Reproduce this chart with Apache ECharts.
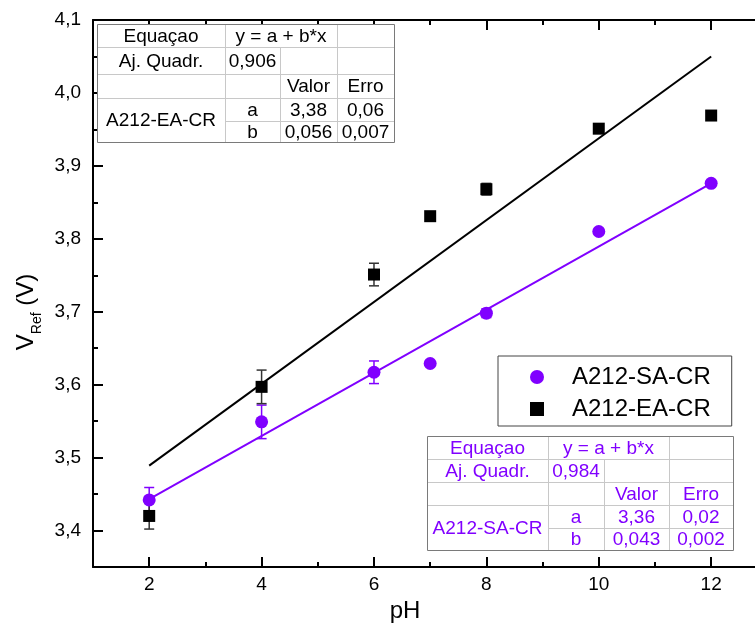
<!DOCTYPE html>
<html><head><meta charset="utf-8">
<script src="https://cdn.jsdelivr.net/npm/echarts@6/dist/echarts.min.js"></script>
<style>html,body{margin:0;padding:0;background:#fff}#c{width:755px;height:635px}</style>
</head><body><div id="c"></div>
<script>
// ---- data ----
const pH = [2, 4, 6, 7, 8, 10, 12];
const vEA = [3.420, 3.597, 3.751, 3.831, 3.868, 3.951, 3.969];
const errEA = [0.018, 0.023, 0.0155, 0.002, 0.008, 0.004, 0.003];
const vSA = [3.442, 3.549, 3.617, 3.629, 3.698, 3.810, 3.876];
const errSA = [0.017, 0.023, 0.0155, 0.002, 0.006, 0.004, 0.003];
const fitX = [2, 12];
const fitEA = [3.489, 4.050];
const fitSA = [3.443, 3.876];
const xMajorTicks = [2, 4, 6, 8, 10, 12];
const xMinorTicks = [3, 5, 7, 9, 11];
const yMajorTicks = [3.4, 3.5, 3.6, 3.7, 3.8, 3.9, 4.0, 4.1];
const yMinorTicks = [3.35, 3.45, 3.55, 3.65, 3.75, 3.85, 3.95, 4.05];
const seriesNames = ['A212-SA-CR', 'A212-EA-CR'];

const t1Header = ['Equaçao', 'y = a + b*x'];
const t1Adj = ['Aj. Quadr.', '0,906'];
const t1Cols = ['Valor', 'Erro'];
const t1RowA = ['a', '3,38', '0,06'];
const t1RowB = ['b', '0,056', '0,007'];

const t2Header = ['Equaçao', 'y = a + b*x'];
const t2Adj = ['Aj. Quadr.', '0,984'];
const t2Cols = ['Valor', 'Erro'];
const t2RowA = ['a', '3,36', '0,02'];
const t2RowB = ['b', '0,043', '0,002'];

const PURPLE = '#8000ff';
const FONT = '"Liberation Sans", Arial, sans-serif';

function tableGraphic(left, top, colW, rowH, color, name, header, adj, cols, rowA, rowB) {
  const xs = [left]; colW.forEach(w => xs.push(xs[xs.length - 1] + w));
  const ys = [top]; rowH.forEach(h => ys.push(ys[ys.length - 1] + h));
  const els = [];
  const inner = '#c8c8c8';
  els.push({type: 'rect', z: 100, shape: {x: xs[0] + 0.5, y: ys[0] + 0.5, width: xs[4] - xs[0], height: ys[5] - ys[0]},
    style: {fill: '#fff', stroke: '#7a7a7a', lineWidth: 1}});
  const hl = (y, x1, x2) => els.push({type: 'line', z: 101, shape: {x1: x1 + 1, y1: y + 0.5, x2: x2, y2: y + 0.5}, style: {stroke: inner, lineWidth: 1}});
  const vl = (x, y1, y2) => els.push({type: 'line', z: 101, shape: {x1: x + 0.5, y1: y1 + 1, x2: x + 0.5, y2: y2}, style: {stroke: inner, lineWidth: 1}});
  hl(ys[1], xs[0], xs[4]); hl(ys[2], xs[0], xs[4]); hl(ys[3], xs[0], xs[4]); hl(ys[4], xs[1], xs[4]);
  vl(xs[1], ys[0], ys[5]); vl(xs[2], ys[1], ys[5]); vl(xs[3], ys[0], ys[5]);
  const tx = (s, cx, cy) => els.push({type: 'text', z: 102, style: {text: s, x: cx, y: cy + 1, align: 'center', verticalAlign: 'middle', fill: color, fontSize: 19, fontFamily: FONT}});
  const cx = (a, b) => (xs[a] + xs[b]) / 2, cy = (a, b) => (ys[a] + ys[b]) / 2;
  tx(header[0], cx(0, 1), cy(0, 1)); tx(header[1], cx(1, 3), cy(0, 1));
  tx(adj[0], cx(0, 1), cy(1, 2)); tx(adj[1], cx(1, 2), cy(1, 2));
  tx(cols[0], cx(2, 3), cy(2, 3)); tx(cols[1], cx(3, 4), cy(2, 3));
  tx(name, cx(0, 1), cy(3, 5));
  tx(rowA[0], cx(1, 2), cy(3, 4)); tx(rowA[1], cx(2, 3), cy(3, 4)); tx(rowA[2], cx(3, 4), cy(3, 4));
  tx(rowB[0], cx(1, 2), cy(4, 5)); tx(rowB[1], cx(2, 3), cy(4, 5)); tx(rowB[2], cx(3, 4), cy(4, 5));
  return els;
}

const errRender = (color) => function (params, api) {
  const x = api.value(0), lo = api.value(1), hi = api.value(2);
  const p1 = api.coord([x, hi]), p2 = api.coord([x, lo]);
  const st = {stroke: color, lineWidth: 1.5};
  return {type: 'group', children: [
    {type: 'line', shape: {x1: p1[0], y1: p1[1], x2: p2[0], y2: p2[1]}, style: st},
    {type: 'line', shape: {x1: p1[0] - 5, y1: p1[1], x2: p1[0] + 5, y2: p1[1]}, style: st},
    {type: 'line', shape: {x1: p2[0] - 5, y1: p2[1], x2: p2[0] + 5, y2: p2[1]}, style: st}
  ]};
};

const XMIN = 1, XMAX = 12.78, YMIN = 3.35, YMAX = 4.1;
const axisLineStyle = {color: '#000', width: 2};
function xAx(pos, ticks, len, showLine, labels) {
  return {type: 'value', position: pos, min: XMIN, max: XMAX, splitLine: {show: false},
    axisLine: {show: showLine, onZero: false, lineStyle: axisLineStyle},
    axisTick: {show: true, inside: true, length: len, customValues: ticks, lineStyle: {color: '#000', width: 2}},
    axisLabel: labels ? {show: true, customValues: ticks, fontSize: 19, color: '#000', fontFamily: FONT, margin: 8, formatter: v => String(v)} : {show: false}
  };
}
function yAx(ticks, len, showLine, labels) {
  return {type: 'value', position: 'left', min: YMIN, max: YMAX, splitLine: {show: false},
    axisLine: {show: showLine, onZero: false, lineStyle: axisLineStyle},
    axisTick: {show: true, inside: true, length: len, customValues: ticks, lineStyle: {color: '#000', width: 2}},
    axisLabel: labels ? {show: true, customValues: ticks, fontSize: 19, color: '#000', fontFamily: FONT, margin: 12, formatter: v => v.toFixed(1).replace('.', ',')} : {show: false}
  };
}

const xMain = xAx('bottom', xMajorTicks, 10, true, true);
xMain.name = 'pH'; xMain.nameLocation = 'middle'; xMain.nameGap = 32;
xMain.nameTextStyle = {fontSize: 24, color: '#000', fontFamily: FONT, padding: [0, 38, 0, 0]};
const yMain = yAx(yMajorTicks, 10, true, true);
yMain.name = '{v|V}{s|Ref}{e| (V)}'; yMain.nameLocation = 'middle'; yMain.nameRotate = 90; yMain.nameGap = 47;
yMain.nameTextStyle = {color: '#000', fontFamily: FONT, rich: {
  v: {fontSize: 24, fontFamily: FONT, color: '#000', verticalAlign: 'bottom', padding: [0, 0, 5, 0]},
  s: {fontSize: 14, fontFamily: FONT, color: '#000', verticalAlign: 'bottom'},
  e: {fontSize: 24, fontFamily: FONT, color: '#000', verticalAlign: 'bottom', padding: [0, 37, 5, 0]}
}};

const chart = echarts.init(document.getElementById('c'), null, {renderer: 'canvas'});
chart.setOption({
  animation: false,
  backgroundColor: '#fff',
  grid: {left: 93, top: 20, right: 0, bottom: 68, containLabel: false},
  xAxis: [xMain, xAx('bottom', xMinorTicks, 5, false, false), xAx('top', xMajorTicks, 10, true, false), xAx('top', xMinorTicks, 5, false, false)],
  yAxis: [yMain, yAx(yMinorTicks, 5, false, false)],
  legend: {
    left: 498, top: 356, orient: 'vertical', padding: [9, 21, 5, 32], itemWidth: 14, itemHeight: 14, itemGap: 8,
    borderColor: '#444', borderWidth: 1, backgroundColor: '#fff',
    textStyle: {fontSize: 24, lineHeight: 24, color: '#000', fontFamily: FONT, padding: [0, 0, 0, 23]},
    data: [{name: seriesNames[0], icon: 'circle'}, {name: seriesNames[1], icon: 'path://M0,0L10,0L10,10L0,10Z'}]
  },
  series: [
    {type: 'line', name: 'fitSA', data: fitX.map((x, i) => [x, fitSA[i]]), showSymbol: false, symbol: 'none', lineStyle: {color: PURPLE, width: 2}, z: 2},
    {type: 'line', name: 'fitEA', data: fitX.map((x, i) => [x, fitEA[i]]), showSymbol: false, symbol: 'none', lineStyle: {color: '#000', width: 2}, z: 2},
    {type: 'custom', name: 'errSA', renderItem: errRender(PURPLE), data: pH.map((x, i) => [x, vSA[i] - errSA[i], vSA[i] + errSA[i]]), z: 3},
    {type: 'custom', name: 'errEA', renderItem: errRender('#333'), data: pH.map((x, i) => [x, vEA[i] - errEA[i], vEA[i] + errEA[i]]), z: 3},
    {type: 'scatter', name: seriesNames[0], data: pH.map((x, i) => [x, vSA[i]]), symbol: 'circle', symbolSize: 13, itemStyle: {color: PURPLE, opacity: 1}, z: 4},
    {type: 'scatter', name: seriesNames[1], data: pH.map((x, i) => [x, vEA[i]]), symbol: 'rect', symbolSize: 12, itemStyle: {color: '#000', opacity: 1}, z: 5}
  ],
  graphic: {elements: [].concat(
    tableGraphic(97, 24, [128, 55, 57, 57], [23, 27, 24, 23, 21], '#000', 'A212-EA-CR', t1Header, t1Adj, t1Cols, t1RowA, t1RowB),
    tableGraphic(427, 436, [121, 56, 65, 64], [23, 23, 23, 23, 22], PURPLE, 'A212-SA-CR', t2Header, t2Adj, t2Cols, t2RowA, t2RowB)
  )}
});
</script>
</body></html>
